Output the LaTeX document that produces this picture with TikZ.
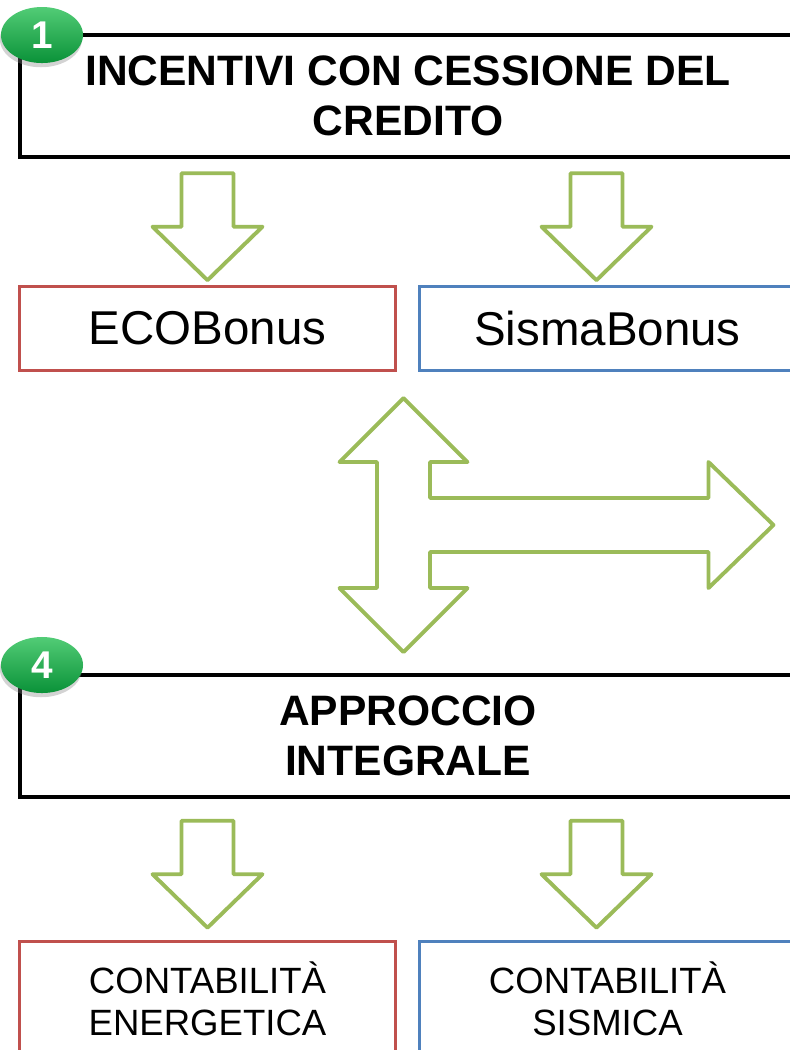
\documentclass[tikz,border=0pt]{standalone}
\usepackage{fontspec}
\setmainfont{Liberation Sans}
\usetikzlibrary{calc,positioning,shapes.geometric,shadows}

\definecolor{ecored}{HTML}{C0504D}
\definecolor{sismablue}{HTML}{4F81BD}
\definecolor{arrowgreen}{HTML}{9BBB59}
\definecolor{badgetop}{HTML}{52CC76}
\definecolor{badgebot}{HTML}{0A9238}

\tikzset{
  titlebox/.style={draw=black, line width=1.05pt, minimum width=7.76cm, minimum height=1.22cm,
                   align=center, font=\fontsize{12.1}{14.2}\selectfont\bfseries},
  bonusbox/.style={draw=#1, line width=0.85pt, minimum width=3.75cm, minimum height=0.83cm,
                   font=\fontsize{13.5}{16}\selectfont},
  countbox/.style={draw=#1, line width=0.85pt, minimum width=3.75cm, minimum height=1.14cm,
                   align=center, font=\fontsize{10.4}{11.95}\selectfont},
  blockarrow/.style={draw=arrowgreen, line width=1.1pt, line join=round, fill=white},
  badge/.style={ellipse, minimum width=0.82cm, minimum height=0.56cm, inner sep=0pt,
                top color=badgetop, bottom color=badgebot, text=white,
                drop shadow={opacity=0.35, shadow xshift=-0.3pt, shadow yshift=-1.2pt},
                font=\fontsize{11}{11}\selectfont\bfseries}
}

% down block arrow from the box #2 to the box #3, moved sideways by #1
\newcommand{\downblock}[3][0]{%
  \coordinate (mid) at ($(#2.south -| #3.north)!.5!(#3.north)+(#1,4.5)$);
  \draw[blockarrow] ($(mid)+(-26,-53.5)$) -- ($(mid)+(26,-53.5)$) -- ($(mid)+(26,0)$)
    -- ($(mid)+(55,0)$) -- ($(mid)+(0,53.5)$) -- ($(mid)+(-55,0)$) -- ($(mid)+(-26,0)$) -- cycle;
}

\begin{document}
\begin{tikzpicture}[x=0.01cm, y=-0.01cm]

\path[use as bounding box] (0,0) rectangle (790,1050);
\clip (0,0) rectangle (790,1050);

% upper part
\node[titlebox] (credit) at (408,96) {INCENTIVI CON CESSIONE DEL\\CREDITO};
\node[bonusbox=ecored] (eco) at (207.5,328.5) {ECOBonus};
\node[bonusbox=sismablue] (sisma) at (607.5,328.5) {SismaBonus};

% lower part
\node[titlebox] (integral) at (408,736) {APPROCCIO\\INTEGRALE};
\node[countbox=ecored] (energy) at (207.5,999) {CONTABILITÀ\\ENERGETICA};
\node[countbox=sismablue] (seismic) at (607.5,999) {CONTABILITÀ\\SISMICA};

% block arrows
\foreach \a/\b/\s in {credit/eco/0, credit/sisma/-11, integral/energy/0, integral/seismic/-11} {
  \downblock[\s]{\a}{\b}
}

% cross arrow between the two parts
\coordinate (hub) at (403.5,525);
\begin{scope}[shift={(hub)}]
  \draw[blockarrow] (0,-127) -- (64,-63) -- (26.5,-63) -- (26.5,-27) -- (305,-27) -- (305,-63)
    -- (370,0) -- (305,63) -- (305,27) -- (26.5,27) -- (26.5,63) -- (64,63) -- (0,127)
    -- (-64,63) -- (-26.5,63) -- (-26.5,-63) -- (-64,-63) -- cycle;
\end{scope}

% numbered badges
\node[badge] (badge1) at (42,35) {1};
\node[badge] (badge4) at (42,665) {4};

\end{tikzpicture}
\end{document}
